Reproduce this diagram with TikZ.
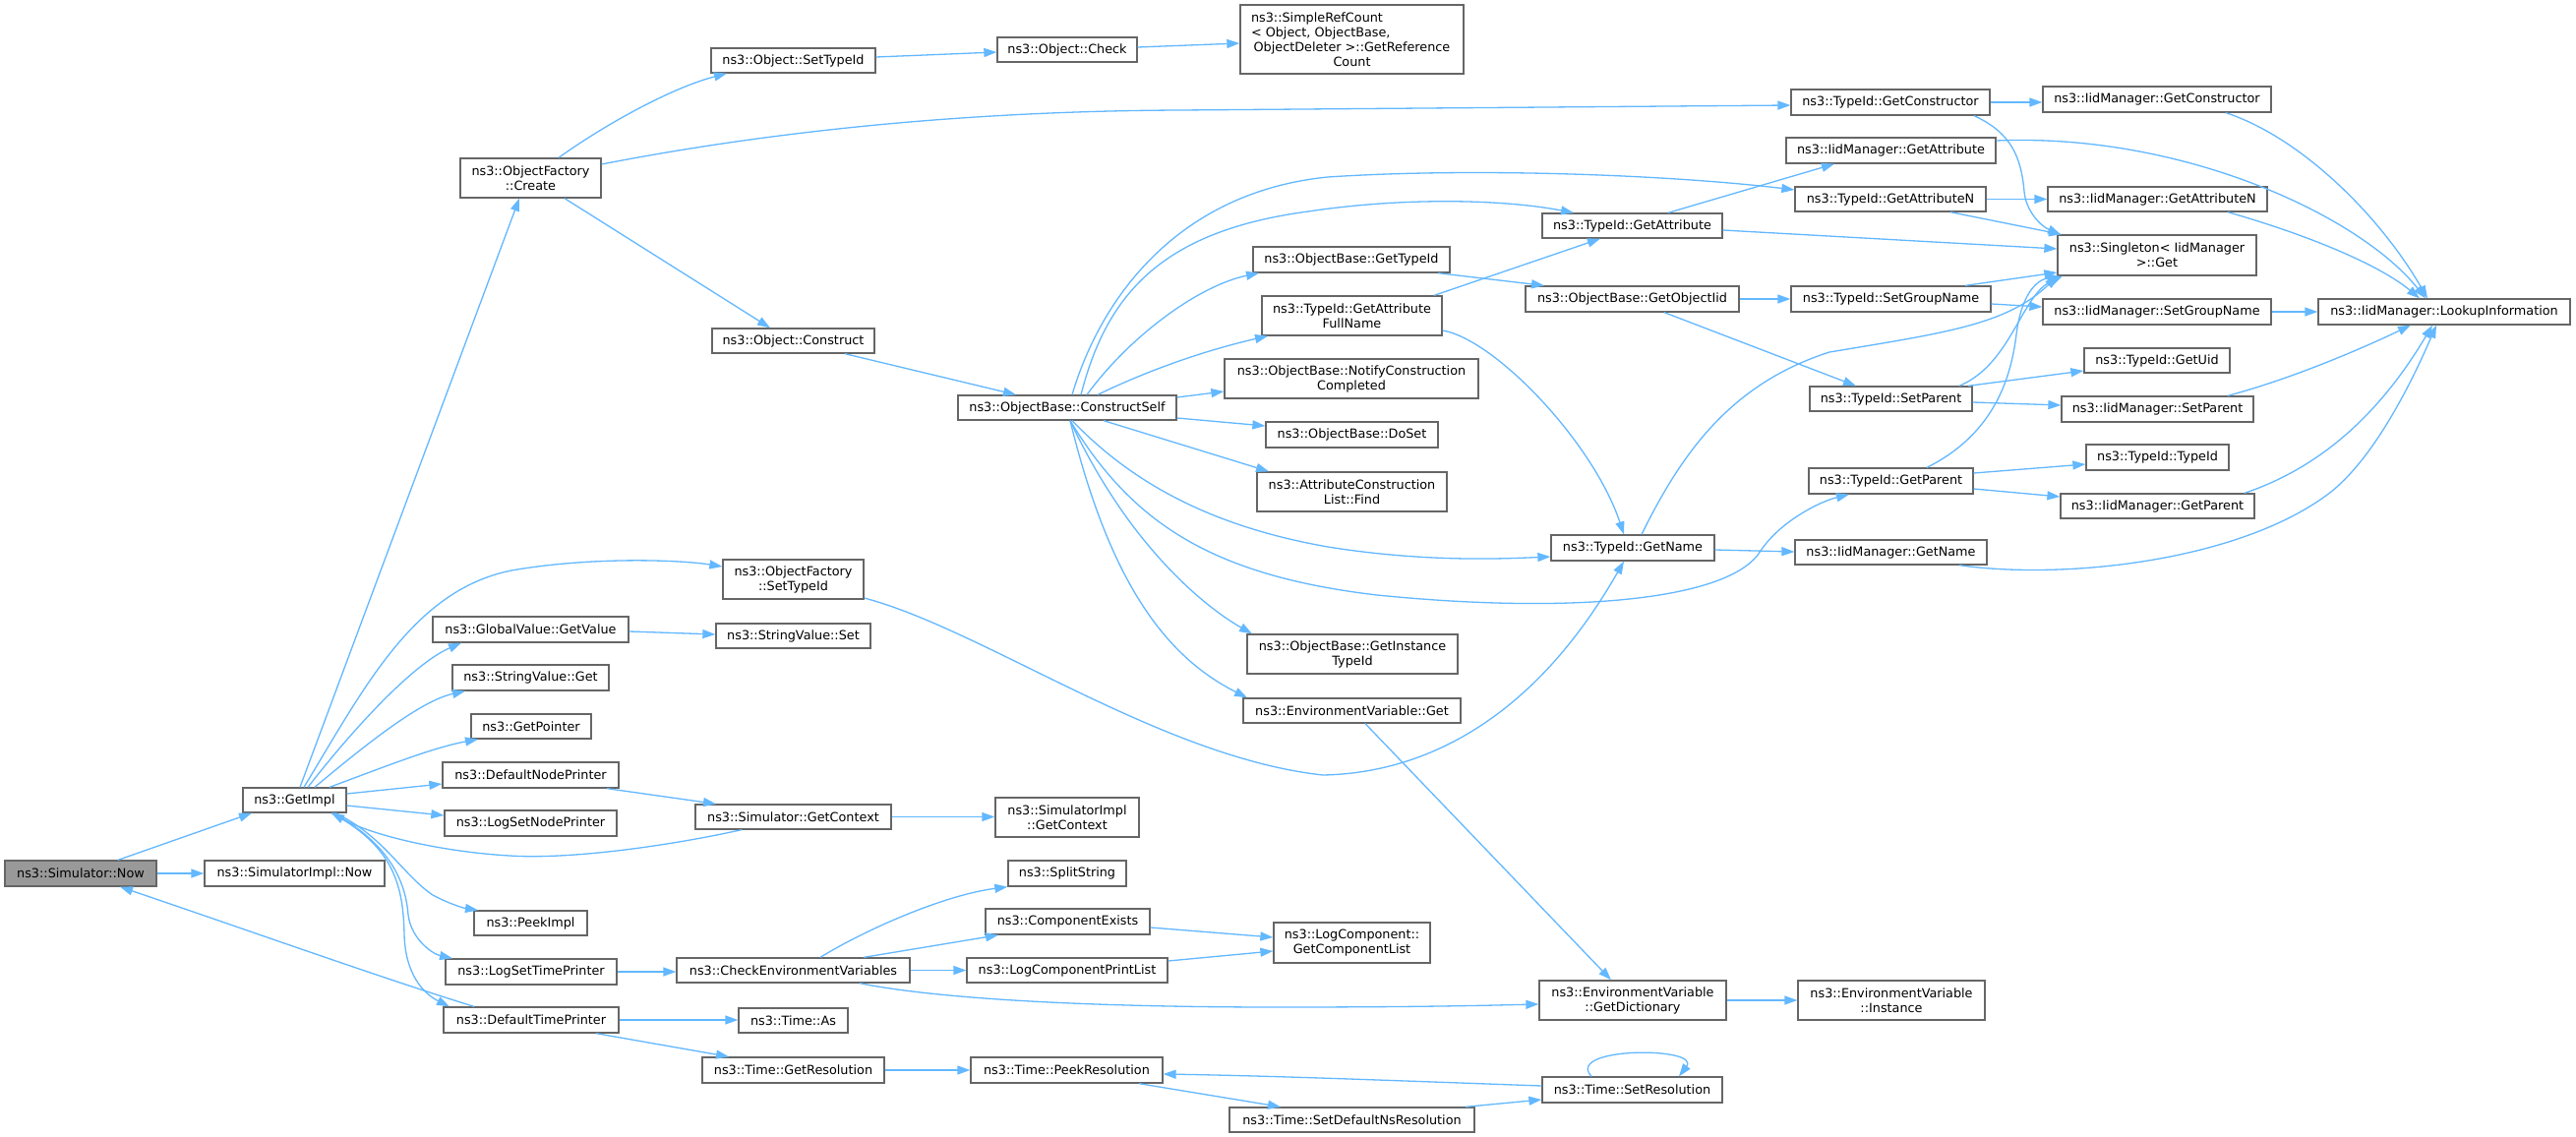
\documentclass[tikz,border=0pt]{standalone}
\usepackage{fontspec}
\setmainfont{DejaVu Sans}
\usetikzlibrary{arrows.meta}
\definecolor{edgec}{HTML}{63B8FF}
\definecolor{boxc}{HTML}{666666}
\definecolor{rootc}{HTML}{999999}
\tikzset{
 box/.style={draw=boxc, line width=1.3pt, fill=white, inner sep=0pt, align=center,
   font=\fontsize{12.8}{15}\selectfont, text=black},
 conn/.style={draw=edgec, line width=1.3pt, -{Triangle[length=13pt,width=9pt]}},
}
\newcommand\mkbox[7][]{%
 \pgfmathsetmacro\mkbw{#5-#3}\pgfmathsetmacro\mkbh{#6-#4}%
 \pgfmathsetmacro\mkbcx{(#3+#5)/2}\pgfmathsetmacro\mkbcy{(#4+#6)/2}%
 \node[box,minimum width=\mkbw pt,minimum height=\mkbh pt,#1] (#2) at (\mkbcx,\mkbcy) {#7};}
\begin{document}
\begin{tikzpicture}[x=1pt,y=-1pt]
\useasboundingbox[fill=white] (0,0) rectangle (2619,1156);
% nodes
\mkbox[fill=rootc]{now}{5}{875}{159}{901}{ns3::Simulator::Now}
\mkbox{getimpl}{247}{801}{352}{826}{ns3::GetImpl}
\mkbox{simnow}{208}{875}{391}{901}{ns3::SimulatorImpl::Now}
\mkbox{create}{468}{161}{611}{201}{ns3::ObjectFactory\\::Create}
\mkbox{ofsettid}{735}{569}{878}{609}{ns3::ObjectFactory\\::SetTypeId}
\mkbox{gvget}{440}{627}{639}{653}{ns3::GlobalValue::GetValue}
\mkbox{svget}{460}{676}{619}{702}{ns3::StringValue::Get}
\mkbox{getptr}{479}{726}{601}{751}{ns3::GetPointer}
\mkbox{dnp}{450}{775}{629}{801}{ns3::DefaultNodePrinter}
\mkbox{lsnp}{452}{824}{627}{850}{ns3::LogSetNodePrinter}
\mkbox{peek}{482}{926}{597}{951}{ns3::PeekImpl}
\mkbox{lstp}{453}{975}{627}{1001}{ns3::LogSetTimePrinter}
\mkbox{dtp}{451}{1024}{629}{1050}{ns3::DefaultTimePrinter}
\mkbox{osettid}{723}{49}{890}{74}{ns3::Object::SetTypeId}
\mkbox{ocheck}{1014}{38}{1156}{63}{ns3::Object::Check}
\mkbox{simpleref}{1261}{5}{1488}{75}{\makebox[205pt][l]{ns3::SimpleRefCount}\\\makebox[205pt][l]{< Object, ObjectBase,}\\ObjectDeleter >::GetReference\\Count}
\mkbox{oconstruct}{724}{334}{889}{359}{ns3::Object::Construct}
\mkbox{cself}{974}{402}{1196}{427}{ns3::ObjectBase::ConstructSelf}
\mkbox{svset}{728}{634}{885}{659}{ns3::StringValue::Set}
\mkbox{sgetctx}{707}{818}{906}{843}{ns3::Simulator::GetContext}
\mkbox{sigetctx}{1012}{811}{1158}{851}{ns3::SimulatorImpl\\::GetContext}
\mkbox{split}{1025}{875}{1145}{901}{ns3::SplitString}
\mkbox{compex}{1002}{924}{1169}{950}{ns3::ComponentExists}
\mkbox{checkenv}{688}{974}{925}{999}{ns3::CheckEnvironmentVariables}
\mkbox{lcpl}{983}{974}{1187}{999}{ns3::LogComponentPrintList}
\mkbox{tas}{751}{1025}{862}{1050}{ns3::Time::As}
\mkbox{tgetres}{714}{1075}{899}{1101}{ns3::Time::GetResolution}
\mkbox{tpeek}{987}{1075}{1182}{1101}{ns3::Time::PeekResolution}
\mkbox{tsetdef}{1250}{1126}{1499}{1151}{ns3::Time::SetDefaultNsResolution}
\mkbox{tsetres}{1568}{1095}{1751}{1121}{ns3::Time::SetResolution}
\mkbox{gcl}{1295}{938}{1454}{979}{ns3::LogComponent::\\GetComponentList}
\mkbox{envdict}{1565}{997}{1755}{1037}{ns3::EnvironmentVariable\\::GetDictionary}
\mkbox{envinst}{1828}{997}{2018}{1037}{ns3::EnvironmentVariable\\::Instance}
\mkbox{envget}{1264}{710}{1485}{735}{ns3::EnvironmentVariable::Get}
\mkbox{instid}{1268}{645}{1482}{685}{ns3::ObjectBase::GetInstance\\TypeId}
\mkbox{find}{1278}{480}{1471}{520}{ns3::AttributeConstruction\\List::Find}
\mkbox{doset}{1287}{429}{1462}{455}{ns3::ObjectBase::DoSet}
\mkbox{notify}{1245}{365}{1503}{405}{ns3::ObjectBase::NotifyConstruction\\Completed}
\mkbox{getname}{1577}{544}{1743}{570}{ns3::TypeId::GetName}
\mkbox{gettid}{1274}{251}{1474}{277}{ns3::ObjectBase::GetTypeId}
\mkbox{fullname}{1283}{301}{1466}{341}{ns3::TypeId::GetAttribute\\FullName}
\mkbox{getattr}{1568}{217}{1751}{242}{ns3::TypeId::GetAttribute}
\mkbox{objiid}{1551}{291}{1768}{317}{ns3::ObjectBase::GetObjectIid}
\mkbox{getctor}{1821}{91}{2023}{117}{ns3::TypeId::GetConstructor}
\mkbox{imgetattr}{1816}{140}{2029}{166}{ns3::IidManager::GetAttribute}
\mkbox{getattrn}{1825}{190}{2019}{215}{ns3::TypeId::GetAttributeN}
\mkbox{setgrp}{1821}{291}{2024}{317}{ns3::TypeId::SetGroupName}
\mkbox{setpar}{1840}{393}{2005}{418}{ns3::TypeId::SetParent}
\mkbox{getpar}{1839}{476}{2006}{502}{ns3::TypeId::GetParent}
\mkbox{imgetname}{1825}{549}{2020}{574}{ns3::IidManager::GetName}
\mkbox{imgetctor}{2077}{88}{2309}{114}{ns3::IidManager::GetConstructor}
\mkbox{imgetattrn}{2082}{190}{2305}{215}{ns3::IidManager::GetAttributeN}
\mkbox{singleton}{2092}{239}{2294}{280}{ns3::Singleton< IidManager\\>::Get}
\mkbox{imsetgrp}{2077}{304}{2309}{330}{ns3::IidManager::SetGroupName}
\mkbox{lookup}{2357}{304}{2613}{330}{ns3::IidManager::LookupInformation}
\mkbox{getuid}{2119}{354}{2267}{379}{ns3::TypeId::GetUid}
\mkbox{imsetpar}{2096}{403}{2291}{429}{ns3::IidManager::SetParent}
\mkbox{typeid}{2121}{452}{2266}{478}{ns3::TypeId::TypeId}
\mkbox{imgetpar}{2095}{502}{2292}{527}{ns3::IidManager::GetParent}
% edges: left part
\draw[conn] (now.north -| 120,0) -- (getimpl.south -| 256,0);
\draw[conn] (now.east) -- (simnow.west);
\draw[conn] (dtp.north -| 482,0) .. controls (390,995) and (250,945) .. (now.south -| 122,0);
\draw[conn] (getimpl.north -| 305,0) -- (create.south -| 528,0);
\draw[conn] (getimpl.north -| 309,0) .. controls (370,700) and (420,600) .. (520,580) .. controls (600,566) and (690,569) .. (ofsettid.west |- 0,576);
\draw[conn] (getimpl.north -| 313,0) .. controls (360,740) and (420,675) .. (gvget.south -| 469,0);
\draw[conn] (getimpl.north -| 320,0) .. controls (380,750) and (430,712) .. (svget.south -| 473,0);
\draw[conn] (getimpl.north -| 335,0) .. controls (390,780) and (440,760) .. (getptr.south -| 486,0);
\draw[conn] (getimpl.east |- 0,807) -- (dnp.west |- 0,797);
\draw[conn] (getimpl.east |- 0,819) -- (lsnp.west |- 0,829);
\draw[conn] (sgetctx.south -| 754,0) .. controls (680,860) and (580,874) .. (518,870) .. controls (450,866) and (380,850) .. (getimpl.south -| 337,0);
\draw[conn] (getimpl.south -| 341,0) .. controls (390,850) and (410,890) .. (440,910) .. controls (455,918) and (470,923) .. (peek.north -| 486,0);
\draw[conn] (getimpl.south -| 339,0) .. controls (390,855) and (412,890) .. (415,930) .. controls (418,955) and (440,970) .. (lstp.north -| 460,0);
\draw[conn] (getimpl.south -| 337,0) .. controls (400,860) and (410,900) .. (411,950) .. controls (412,990) and (430,1010) .. (dtp.north -| 457,0);
\draw[conn] (dnp.south -| 617,0) -- (sgetctx.north -| 728,0);
\draw[conn] (sgetctx.east) -- (sigetctx.west |- sgetctx.east);
\draw[conn] (lstp.east) -- (checkenv.west |- lstp.east);
\draw[conn] (dtp.east) -- (tas.west |- dtp.east);
\draw[conn] (dtp.south -| 606,0) -- (tgetres.north -| 741,0);
\draw[conn] (gvget.east |- 0,642) -- (svset.west |- 0,645);
\draw[conn] (ofsettid.east |- 0,608) .. controls (1000,640) and (1180,770) .. (1345,788) .. controls (1450,786) and (1560,730) .. (getname.south -| 1651,0);
% middle bottom
\draw[conn] (checkenv.north -| 834,0) .. controls (880,945) and (960,910) .. (split.south west);
\draw[conn] (checkenv.north -| 878,0) -- (compex.south -| 1015,0);
\draw[conn] (checkenv.east) -- (lcpl.west);
\draw[conn] (checkenv.south -| 874,0) .. controls (950,1015) and (1100,1024) .. (1300,1024) .. controls (1450,1024) and (1520,1022) .. (envdict.west |- 0,1021);
\draw[conn] (compex.east |- 0,943) -- (gcl.west |- 0,953);
\draw[conn] (lcpl.east |- 0,977) -- (gcl.west |- 0,967);
\draw[conn] (tgetres.east) -- (tpeek.west);
\draw[conn] (tpeek.south -| 1158,0) -- (tsetdef.north -| 1302,0);
\draw[conn] (tsetres.west |- 0,1104) .. controls (1400,1098) and (1300,1094) .. (tpeek.east |- 0,1092);
\draw[conn] (tsetdef.north -| 1490,0) -- (tsetres.west |- 0,1118);
\draw[conn] (tsetres.north -| 1618,0) .. controls (1590,1064) and (1730,1064) .. (tsetres.north -| 1707,0);
\draw[conn] (envget.south -| 1388,0) -- (envdict.north -| 1638,0);
\draw[conn] (envdict.east) -- (envinst.west);
% top part
\draw[conn] (create.north -| 568,0) .. controls (610,130) and (680,90) .. (osettid.south -| 739,0);
\draw[conn] (osettid.east |- 0,58) -- (ocheck.west |- 0,53);
\draw[conn] (ocheck.east |- 0,48) -- (simpleref.west |- 0,44);
\draw[conn] (create.east |- 0,167) .. controls (750,140) and (950,113) .. (1200,112) -- (getctor.west |- 0,107);
\draw[conn] (create.south -| 574,0) -- (oconstruct.north -| 783,0);
\draw[conn] (oconstruct.south -| 859,0) -- (cself.north -| 1033,0);
\draw[conn] (cself.north -| 1090,0) .. controls (1120,300) and (1200,195) .. (1350,180) .. controls (1500,170) and (1700,178) .. (getattrn.west |- 0,193);
\draw[conn] (cself.north -| 1099,0) .. controls (1125,300) and (1180,235) .. (1330,215) .. controls (1430,200) and (1530,203) .. (getattr.north -| 1600,0);
\draw[conn] (cself.north -| 1105,0) .. controls (1150,340) and (1220,290) .. (gettid.south -| 1280,0);
\draw[conn] (cself.north -| 1116,0) .. controls (1170,375) and (1230,355) .. (fullname.south -| 1289,0);
\draw[conn] (cself.east |- 0,404) -- (notify.west |- 0,398);
\draw[conn] (cself.east |- 0,425) -- (doset.west |- 0,433);
\draw[conn] (cself.south -| 1122,0) -- (find.north -| 1290,0);
\draw[conn] (cself.south -| 1090,0) .. controls (1150,490) and (1230,535) .. (1350,556) .. controls (1450,572) and (1530,568) .. (getname.west |- 0,566);
\draw[conn] (cself.south -| 1088,0) .. controls (1150,530) and (1230,585) .. (1400,605) .. controls (1600,625) and (1760,610) .. (1790,560) .. controls (1810,530) and (1850,510) .. (getpar.south -| 1880,0);
\draw[conn] (cself.south -| 1088,0) .. controls (1150,560) and (1230,620) .. (instid.north -| 1273,0);
\draw[conn] (cself.south -| 1088,0) .. controls (1130,600) and (1190,670) .. (envget.north -| 1268,0);
\draw[conn] (gettid.south -| 1462,0) -- (objiid.north -| 1570,0);
\draw[conn] (fullname.north -| 1458,0) -- (getattr.south -| 1627,0);
\draw[conn] (fullname.east |- 0,336) .. controls (1520,345) and (1620,450) .. (getname.north -| 1651,0);
\draw[conn] (getattr.north -| 1696,0) -- (imgetattr.south -| 1865,0);
\draw[conn] (getattr.east |- 0,234) -- (singleton.west |- 0,253);
\draw[conn] (getattrn.east) -- (imgetattrn.west |- getattrn.east);
\draw[conn] (getattrn.south -| 1983,0) -- (singleton.north -| 2096,0);
\draw[conn] (getctor.east) -- (imgetctor.west |- getctor.east);
\draw[conn] (getctor.south -| 2007,0) .. controls (2045,135) and (2055,160) .. (2058,195) .. controls (2060,215) and (2075,230) .. (singleton.north -| 2095,0);
\draw[conn] (imgetctor.south -| 2263,0) .. controls (2340,140) and (2420,220) .. (lookup.north -| 2468,0);
\draw[conn] (imgetattr.east |- 0,143) .. controls (2220,135) and (2400,220) .. (lookup.north -| 2466,0);
\draw[conn] (imgetattrn.south -| 2265,0) .. controls (2350,240) and (2420,270) .. (lookup.north -| 2460,0);
\draw[conn] (setgrp.north -| 1998,0) -- (singleton.west |- 0,277);
\draw[conn] (setgrp.east |- 0,309) -- (imsetgrp.west |- 0,312);
\draw[conn] (imsetgrp.east) -- (lookup.west);
\draw[conn] (objiid.east) -- (setgrp.west |- objiid.east);
\draw[conn] (objiid.south -| 1692,0) -- (setpar.north -| 1887,0);
\draw[conn] (setpar.north -| 1992,0) .. controls (2045,370) and (2055,300) .. (singleton.south -| 2097,0);
\draw[conn] (setpar.north -| 2001,0) -- (getuid.west |- 0,377);
\draw[conn] (setpar.east |- 0,409) -- (imsetpar.west |- 0,412);
\draw[conn] (imsetpar.north -| 2265,0) .. controls (2330,385) and (2400,355) .. (lookup.south -| 2451,0);
\draw[conn] (getpar.north -| 1959,0) .. controls (2030,440) and (2045,380) .. (2050,340) .. controls (2055,300) and (2070,285) .. (singleton.south -| 2094,0);
\draw[conn] (getpar.east |- 0,481) -- (typeid.west |- 0,472);
\draw[conn] (getpar.east |- 0,497) -- (imgetpar.west |- 0,505);
\draw[conn] (imgetpar.north -| 2282,0) .. controls (2360,475) and (2420,420) .. (lookup.south -| 2473,0);
\draw[conn] (getname.north -| 1669,0) .. controls (1710,460) and (1760,390) .. (1860,358) .. controls (1980,338) and (2040,330) .. (singleton.south -| 2092,0);
\draw[conn] (getname.east |- 0,559) -- (imgetname.west |- 0,561);
\draw[conn] (imgetname.south -| 1992,0) .. controls (2100,590) and (2280,570) .. (2370,500) .. controls (2420,460) and (2460,370) .. (lookup.south -| 2477,0);
\end{tikzpicture}
\end{document}
